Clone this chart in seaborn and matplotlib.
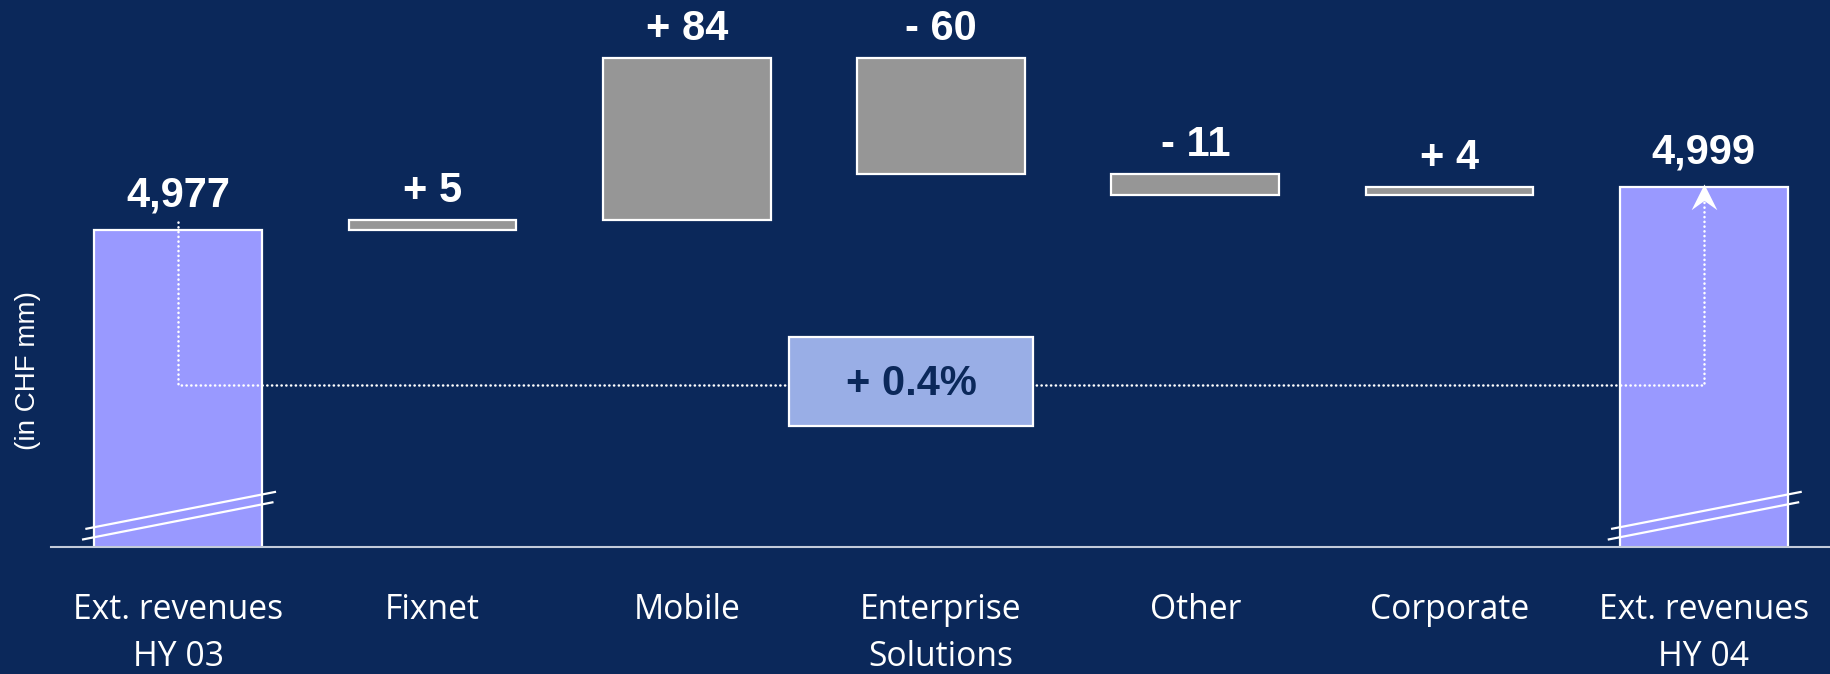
import numpy as np
import pandas as pd
import matplotlib
matplotlib.use("Agg")
import matplotlib.pyplot as plt
import matplotlib.transforms as mtransforms
from matplotlib.patches import Rectangle
from matplotlib.path import Path
import seaborn as sns

# --- data -------------------------------------------------------------------
categories = ["Ext. revenues\nHY 03", "Fixnet", "Mobile", "Enterprise\nSolutions",
              "Other", "Corporate", "Ext. revenues\nHY 04"]
start_total = 4977
changes = [5, 84, -60, -11, 4]
end_total = 4999
y_label = "(in CHF mm)"

# --- colours ----------------------------------------------------------------
BG = "#0B285A"
TOTAL_C = "#9999FF"
CHANGE_C = "#969696"
BOX_C = "#99AEE6"
AXIS_C = "#C3CBDA"

# --- waterfall geometry derived from the data --------------------------------
running = np.concatenate([[start_total], start_total + np.cumsum(changes)])
bottoms = [0] + [min(a, b) for a, b in zip(running[:-1], running[1:])] + [0]
heights = [start_total] + [abs(c) for c in changes] + [end_total]
tops = [start_total] + [max(a, b) for a, b in zip(running[:-1], running[1:])] + [end_total]
labels = ([f"{start_total:,}"]
          + [f"{'+' if c > 0 else '-'} {abs(c)}" for c in changes]
          + [f"{end_total:,}"])
kinds = ["total"] + ["change"] * len(changes) + ["total"]

df = pd.DataFrame({"category": categories, "height": heights})

sns.set_theme(style="white")
plt.rcParams["font.family"] = ["Liberation Sans", "DejaVu Sans"]

fig = plt.figure(figsize=(18.3, 6.74), dpi=100, facecolor=BG)
ax = fig.add_axes([51 / 1830, 127 / 674, 1780 / 1830, 547 / 674])
ax.set_facecolor(BG)

sns.barplot(data=df, x="category", y="height", order=categories,
            bottom=bottoms, width=0.66, color=CHANGE_C, errorbar=None,
            edgecolor="white", linewidth=1.6, saturation=1, ax=ax, zorder=2)

for patch, kind in zip(ax.patches, kinds):
    patch.set_facecolor(TOTAL_C if kind == "total" else CHANGE_C)

ymin, ymax = 4813, 5096
ax.set_xlim(-0.5, len(categories) - 0.5)
ax.set_ylim(ymin, ymax)

# value labels above each bar
for i, (top, lab, kind) in enumerate(zip(tops, labels, kinds)):
    off = 17 if kind == "total" else 13
    ax.annotate(lab, (i, top), xytext=(0, off), textcoords="offset points",
                ha="center", va="baseline", color="white", fontsize=30,
                fontweight="bold", family=["Liberation Sans", "DejaVu Sans"])

# break marks on the total bars
blend = mtransforms.blended_transform_factory(ax.transData, ax.transAxes)
for i in (0, len(categories) - 1):
    ax.plot([i - 0.365, i + 0.385], [0.033, 0.101], color="white", lw=1.6,
            transform=blend, zorder=4, solid_capstyle="butt", clip_on=False)
    ax.plot([i - 0.378, i + 0.375], [0.0135, 0.082], color="white", lw=1.6,
            transform=blend, zorder=4, solid_capstyle="butt", clip_on=False)

# dotted connector between the two totals
mid_frac = 0.296
y_mid = ymin + mid_frac * (ymax - ymin)
last = len(categories) - 1
arrow_tip = end_total + 2
dot = (0, (0.1, 1.8))
ax.plot([0, 0, last, last], [start_total + 4, y_mid, y_mid, arrow_tip - 8],
        color="white", lw=1.8, linestyle=dot, zorder=3, dash_capstyle="round")

head = Path([(0, 0), (-0.5, -1.0), (0, -0.64), (0.5, -1.0), (0, 0)],
            [Path.MOVETO, Path.LINETO, Path.LINETO, Path.LINETO, Path.CLOSEPOLY])
ax.plot([last], [arrow_tip], marker=head, markersize=37, color="white",
        markeredgewidth=0, zorder=5)

# growth box
pct = (end_total - start_total) / start_total * 100
box_cx, box_w = 2.882, 0.96
box_cy, box_h = 0.3026, 0.1627
ax.add_patch(Rectangle((box_cx - box_w / 2, box_cy - box_h / 2), box_w, box_h,
                       transform=blend, facecolor=BOX_C, edgecolor="white",
                       lw=1.6, zorder=6))
ax.text(box_cx, box_cy - 0.005, f"+ {pct:.1f}%", transform=blend, ha="center",
        va="center", color=BG, fontsize=30, fontweight="bold", zorder=7)

# axes styling
for side in ("top", "right", "left"):
    ax.spines[side].set_visible(False)
ax.spines["bottom"].set_color(AXIS_C)
ax.spines["bottom"].set_linewidth(1.5)
ax.spines["bottom"].set_zorder(5)
ax.set_yticks([])
ax.set_xlabel("")
ax.tick_params(axis="x", length=0, pad=33)
ax.set_xticks(range(len(categories)))
ax.set_xticklabels(categories, color="white", fontsize=24.2,
                   family=["Open Sans", "DejaVu Sans"], linespacing=1.52)

ax.set_ylabel(y_label, color="white", fontsize=20, va="center",
              family=["Liberation Sans", "DejaVu Sans"])
ax.yaxis.set_label_coords(-0.0127, 0.323)

fig.savefig("out.png", dpi=100, facecolor=BG)
